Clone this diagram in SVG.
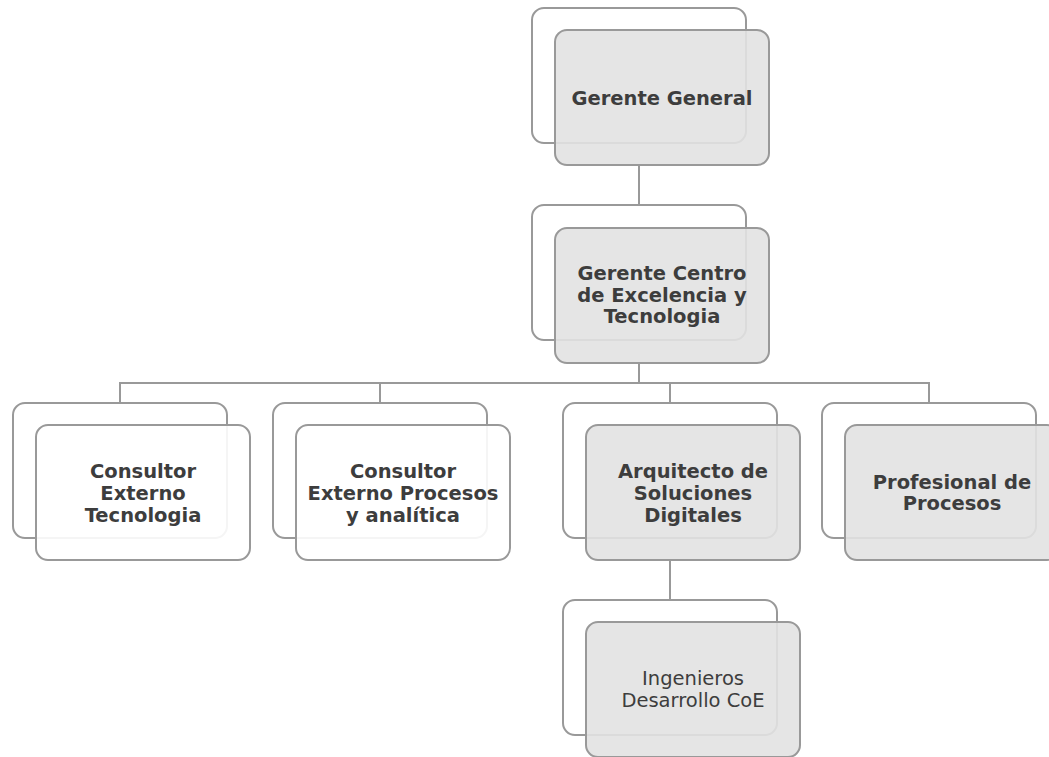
<svg xmlns="http://www.w3.org/2000/svg" width="1049" height="757" viewBox="0 0 1049 757">
  <style>
    .back { fill: #ffffff; stroke: #999999; stroke-width: 2; }
    .front { fill: #e2e2e2; fill-opacity: 0.9; stroke: #999999; stroke-width: 2; }
    .front.white { fill: #ffffff; }
    .wire { fill: none; stroke: #999999; stroke-width: 2; }
    .t { font-family: "DejaVu Sans", Verdana, sans-serif; font-size: 19.5px; font-weight: bold; fill: #3d3d3d; text-anchor: middle; }
    .t.reg { font-weight: normal; font-size: 19.5px; }
  </style>
  <rect width="1049" height="757" fill="#ffffff"/>

  <g id="connectors">
    <path class="wire" d="M639 165 V205"/>
    <path class="wire" d="M639 362 V383"/>
    <path class="wire" d="M120 402 V383 H929 V402"/>
    <path class="wire" d="M380 383 V402"/>
    <path class="wire" d="M670 383 V402"/>
    <path class="wire" d="M670 561 V600"/>
  </g>

  <g id="gerente-general">
    <rect class="back" x="532" y="8" width="214" height="135" rx="12"/>
    <rect class="front" x="555" y="30" width="214" height="135" rx="12"/>
    <text class="t" x="662" y="105">Gerente General</text>
  </g>

  <g id="gerente-centro">
    <rect class="back" x="532" y="205" width="214" height="135" rx="12"/>
    <rect class="front" x="555" y="228" width="214" height="135" rx="12"/>
    <text class="t" x="662" y="280">Gerente Centro</text>
    <text class="t" x="662" y="302">de Excelencia y</text>
    <text class="t" x="662" y="323">Tecnologia</text>
  </g>

  <g id="consultor-tecnologia">
    <rect class="back" x="13" y="403" width="214" height="135" rx="12"/>
    <rect class="front white" x="36" y="425" width="214" height="135" rx="12"/>
    <text class="t" x="143" y="478">Consultor</text>
    <text class="t" x="143" y="500">Externo</text>
    <text class="t" x="143" y="522">Tecnologia</text>
  </g>

  <g id="consultor-procesos">
    <rect class="back" x="273" y="403" width="214" height="135" rx="12"/>
    <rect class="front white" x="296" y="425" width="214" height="135" rx="12"/>
    <text class="t" x="403" y="478">Consultor</text>
    <text class="t" x="403" y="500">Externo Procesos</text>
    <text class="t" x="403" y="522">y analítica</text>
  </g>

  <g id="arquitecto">
    <rect class="back" x="563" y="403" width="214" height="135" rx="12"/>
    <rect class="front" x="586" y="425" width="214" height="135" rx="12"/>
    <text class="t" x="693" y="478">Arquitecto de</text>
    <text class="t" x="693" y="500">Soluciones</text>
    <text class="t" x="693" y="522">Digitales</text>
  </g>

  <g id="profesional">
    <rect class="back" x="822" y="403" width="214" height="135" rx="12"/>
    <rect class="front" x="845" y="425" width="214" height="135" rx="12"/>
    <text class="t" x="952" y="489">Profesional de</text>
    <text class="t" x="952" y="510">Procesos</text>
  </g>

  <g id="ingenieros">
    <rect class="back" x="563" y="600" width="214" height="135" rx="12"/>
    <rect class="front" x="586" y="622" width="214" height="135" rx="12"/>
    <text class="t reg" x="693" y="685">Ingenieros</text>
    <text class="t reg" x="693" y="707">Desarrollo CoE</text>
  </g>
</svg>
